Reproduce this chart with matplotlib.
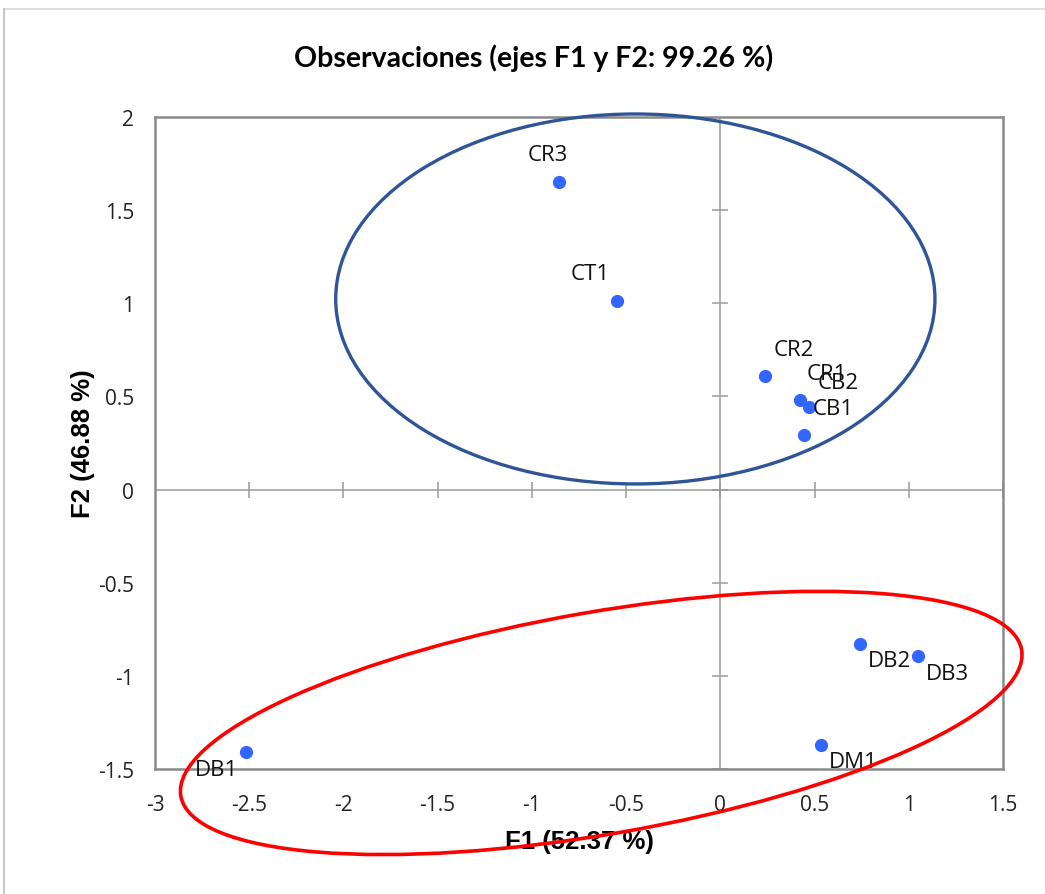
import matplotlib.pyplot as plt
from matplotlib.patches import Ellipse
from matplotlib.lines import Line2D
from matplotlib.ticker import FormatStrFormatter

plt.rcParams['font.family'] = ['Open Sans', 'DejaVu Sans']

# observation coordinates
labels = ['CR3', 'CT1', 'CR2', 'CR1', 'CB2', 'CB1', 'DB2', 'DB3', 'DM1', 'DB1']
f1 = [-0.855, -0.546, 0.236, 0.421, 0.473, 0.443, 0.741, 1.047, 0.532, -2.517]
f2 = [1.650, 1.014, 0.611, 0.483, 0.442, 0.295, -0.829, -0.895, -1.371, -1.407]
xticks = [-3, -2.5, -2, -1.5, -1, -0.5, 0, 0.5, 1, 1.5]
yticks = [-1.5, -1, -0.5, 0, 0.5, 1, 1.5, 2]

# label offsets in pixels (dx, dy)
offsets = [(-11, 28), (-27, 27), (29, 26), (27, 26), (29, 25), (29, 26),
           (30, -17), (30, -17), (33, -17), (-29, -18)]

fig = plt.figure(figsize=(10.45, 8.95), dpi=100)
ax = fig.add_axes([0.1483, 0.1397, 0.8115, 0.7285])

ax.set_xlim(-3, 1.5)
ax.set_ylim(-1.5, 2)
ax.set_xticks(xticks)
ax.set_yticks(yticks)
ax.xaxis.set_major_formatter(FormatStrFormatter('%g'))
ax.yaxis.set_major_formatter(FormatStrFormatter('%g'))
ax.tick_params(length=0, labelsize=15, colors='#222222')
ax.tick_params(axis='x', pad=18)
ax.tick_params(axis='y', pad=15)
for sp in ax.spines.values():
    sp.set_color('#8a8a8a')
    sp.set_linewidth(1.8)

# zero axes with crossing ticks
ax.axhline(0, color='#9a9a9a', lw=1.1, zorder=1)
ax.axvline(0, color='#9a9a9a', lw=1.1, zorder=1)
ax.plot(xticks, [0] * len(xticks), ls='', marker='|', ms=11, mew=1.1, color='#9a9a9a', zorder=1)
ax.plot([0] * len(yticks), yticks, ls='', marker='_', ms=12, mew=1.1, color='#9a9a9a', zorder=1)

ax.plot(f1, f2, ls='', marker='o', ms=8.5, color='#3366ff', zorder=3)
for name, x, y, (dx, dy) in zip(labels, f1, f2, offsets):
    ax.annotate(name, (x, y), xytext=(dx * 0.72, dy * 0.72), textcoords='offset points',
                ha='center', va='center', fontsize=16, color='#111111', zorder=4)

# group ellipses
ax.add_patch(Ellipse((-0.451, 1.023), 3.18, 1.986, fill=False, ec='#2f5597',
                     lw=2.4, clip_on=False, zorder=5))
ax.add_patch(Ellipse((-0.632, -1.253), 4.53, 1.192, angle=10, fill=False, ec='#ff0000',
                     lw=2.6, clip_on=False, zorder=5))

ax.set_title('Observaciones (ejes F1 y F2: 99.26 %)', fontsize=20.5, fontweight='bold',
             family='Lato', pad=37, x=0.446)
ax.set_xlabel('F1 (52.37 %)', fontsize=18.5, fontweight='bold', family='Liberation Sans',
              labelpad=10)
ax.set_ylabel('F2 (46.88 %)', fontsize=18.5, fontweight='bold', family='Liberation Sans',
              labelpad=2)

# outer frame of the chart area
fig.add_artist(Line2D([0.004, 1.0], [0.989, 0.989], color='#d9d9d9', lw=1.2))
fig.add_artist(Line2D([0.004, 0.004], [0.0, 0.989], color='#bdbdbd', lw=1.2))

fig.savefig('out.png', dpi=100)
